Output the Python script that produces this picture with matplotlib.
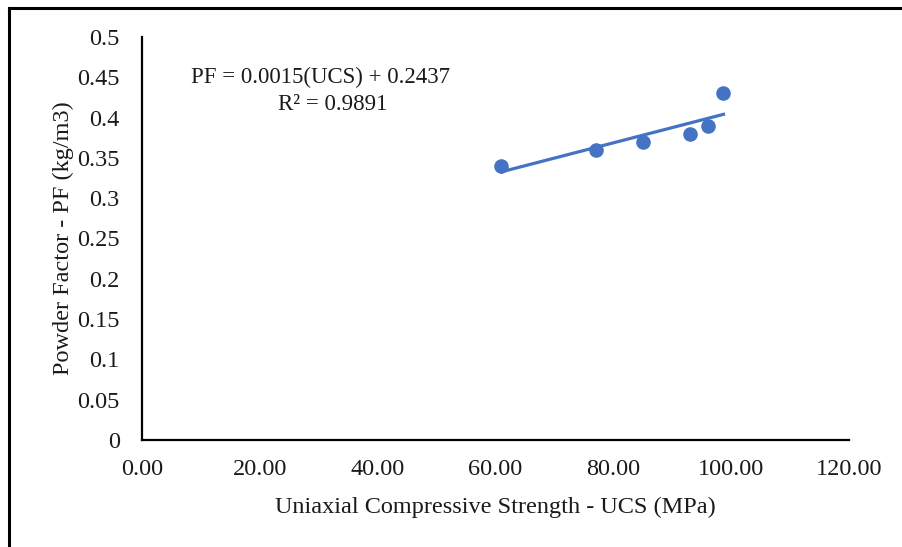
import matplotlib.pyplot as plt
import numpy as np
from matplotlib.lines import Line2D

plt.rcParams["font.family"] = ["Liberation Serif", "DejaVu Serif"]

ucs = [61.0, 77.0, 85.0, 93.0, 96.0, 98.7]
pf = [0.34, 0.36, 0.37, 0.38, 0.39, 0.43]
equation = "PF = 0.0015(UCS) + 0.2437"
r2_text = "R² = 0.9891"

blue = "#4472C4"
fs = 17.5

fig = plt.figure(figsize=(9.02, 5.47), dpi=100)
ax = fig.add_axes([0.1574, 0.1956, 0.7838, 0.7368])

ax.scatter(ucs, pf, s=110, color=blue, zorder=3, linewidths=0)

slope, icpt = np.polyfit(ucs, pf, 1)
xs = np.array([min(ucs), max(ucs)])
ax.plot(xs, slope * xs + icpt, color=blue, lw=2.3, zorder=2)

ax.set_xlim(0, 120)
ax.set_ylim(0, 0.5)
ax.set_xticks(np.arange(0, 121, 20))
ax.set_xticklabels([f"{v:.2f}" for v in np.arange(0, 121, 20)])
ax.set_yticks(np.arange(0, 0.501, 0.05))
ax.set_yticklabels(["0", "0.05", "0.1", "0.15", "0.2", "0.25", "0.3",
                    "0.35", "0.4", "0.45", "0.5"])
ax.tick_params(axis="y", length=0, labelsize=fs, pad=16, colors="#1a1a1a")
ax.tick_params(axis="x", length=0, labelsize=fs, pad=14, colors="#1a1a1a")

for s in ["top", "right"]:
    ax.spines[s].set_visible(False)
for s in ["left", "bottom"]:
    ax.spines[s].set_linewidth(1.6)
    ax.spines[s].set_color("black")

ax.set_xlabel("Uniaxial Compressive Strength - UCS (MPa)", fontsize=fs,
              color="#1a1a1a", labelpad=12)
ax.set_ylabel("Powder Factor - PF (kg/m3)", fontsize=fs, color="#1a1a1a",
              labelpad=2)

ax.text(0.253, 0.90, equation, transform=ax.transAxes, ha="center",
        va="center", fontsize=16.5, color="#1a1a1a")
ax.text(0.270, 0.832, r2_text, transform=ax.transAxes, ha="center",
        va="center", fontsize=16.5, color="#1a1a1a")

# outer frame (left and top edges only)
fig.add_artist(Line2D([0.0100, 0.0100], [0, 0.986], color="black", lw=2.2,
                      transform=fig.transFigure))
fig.add_artist(Line2D([0.0100, 1.0], [0.986, 0.986], color="black", lw=2.2,
                      transform=fig.transFigure))

fig.savefig("out.png", dpi=100)
